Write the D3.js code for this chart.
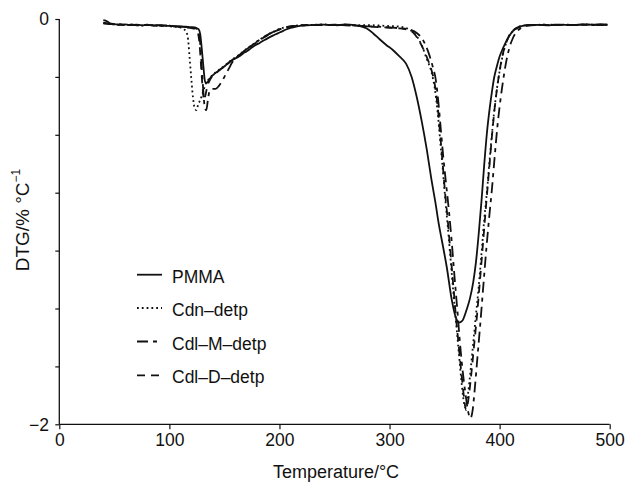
<!DOCTYPE html>
<html><head><meta charset="utf-8">
<script src="https://cdn.jsdelivr.net/npm/d3@7"></script>
<style>html,body{margin:0;padding:0;background:#fff;}svg{display:block;font-family:"Liberation Sans",Arial,sans-serif;}</style>
</head><body>
<svg id="c" width="625" height="483"></svg>
<script>
const xTicks = [0,100,200,300,400,500];
const yTickLabels = [{v:0,t:"0"},{v:-2,t:"\u22122"}];
const seriesNames = ["PMMA","Cdn\u2013detp","Cdl\u2013M\u2013detp","Cdl\u2013D\u2013detp"];

const pmma = [[40,-0.006],[42,-0.008],[44,-0.014],[46,-0.022],[50,-0.025],[55,-0.028],[60,-0.027],[65,-0.03],[70,-0.028],[75,-0.031],[80,-0.029],[85,-0.032],[90,-0.03],[95,-0.033],[100,-0.034],[105,-0.035],[110,-0.036],[115,-0.038],[120,-0.04],[124,-0.043],[126.5,-0.05],[128,-0.075],[129.5,-0.15],[131,-0.24],[132.5,-0.31],[134,-0.315],[136,-0.3],[138,-0.285],[140,-0.275],[143,-0.262],[146,-0.25],[149,-0.238],[152,-0.225],[155,-0.212],[158,-0.2],[161,-0.192],[164,-0.182],[167,-0.17],[170,-0.16],[174,-0.145],[178,-0.13],[182,-0.118],[186,-0.105],[190,-0.093],[194,-0.082],[198,-0.072],[202,-0.062],[206,-0.052],[210,-0.044],[215,-0.037],[220,-0.033],[225,-0.031],[230,-0.03],[240,-0.028],[250,-0.03],[260,-0.027],[268,-0.03],[274,-0.036],[279,-0.046],[285,-0.07],[291,-0.1],[297,-0.128],[303,-0.153],[309,-0.185],[315,-0.22],[320,-0.285],[324.5,-0.38],[329,-0.498],[334,-0.65],[338,-0.79],[341.5,-0.9],[345,-1.02],[348.5,-1.12],[352,-1.225],[356.5,-1.385],[360,-1.47],[363,-1.498],[366,-1.49],[370,-1.435],[373,-1.38],[376,-1.3],[378.5,-1.2],[381,-1.06],[383.5,-0.9],[386,-0.72],[388.5,-0.56],[391,-0.44],[393,-0.36],[395,-0.29],[397.5,-0.233],[400,-0.185],[403,-0.145],[406,-0.11],[409,-0.082],[412,-0.06],[416,-0.045],[420,-0.035],[426,-0.03],[435,-0.029],[445,-0.031],[455,-0.028],[465,-0.03],[475,-0.027],[485,-0.028],[492,-0.026],[498,-0.028]];

const cdn = [[40,-0.02],[45,-0.024],[50,-0.026],[55,-0.03],[60,-0.027],[65,-0.03],[70,-0.029],[75,-0.032],[80,-0.028],[85,-0.031],[90,-0.033],[95,-0.032],[100,-0.036],[105,-0.038],[110,-0.042],[113,-0.05],[115.5,-0.065],[117,-0.1],[118.5,-0.2],[120,-0.3],[121.5,-0.39],[123,-0.44],[124.5,-0.45],[126,-0.425],[128,-0.4],[130,-0.37],[132,-0.335],[134,-0.31],[136,-0.295],[138,-0.283],[140,-0.272],[143,-0.26],[146,-0.247],[149,-0.235],[152,-0.222],[155,-0.208],[158,-0.196],[161,-0.186],[164,-0.174],[167,-0.16],[170,-0.148],[174,-0.132],[178,-0.117],[182,-0.102],[186,-0.088],[190,-0.075],[194,-0.064],[198,-0.054],[202,-0.046],[206,-0.04],[210,-0.036],[215,-0.033],[220,-0.03],[230,-0.029],[240,-0.027],[250,-0.03],[260,-0.028],[270,-0.031],[280,-0.03],[290,-0.032],[300,-0.035],[308,-0.037],[314,-0.043],[318,-0.052],[322,-0.068],[326,-0.095],[330,-0.14],[334,-0.2],[338,-0.26],[341,-0.34],[343.5,-0.45],[346,-0.6],[348.5,-0.75],[350.5,-0.88],[353,-1.03],[355.5,-1.19],[358,-1.35],[360.5,-1.5],[363,-1.65],[365,-1.77],[367,-1.87],[368.5,-1.915],[370,-1.9],[371.5,-1.84],[373.5,-1.74],[376,-1.6],[378.5,-1.46],[381,-1.32],[383.5,-1.16],[386,-0.99],[388.5,-0.85],[391,-0.69],[393.5,-0.54],[396,-0.41],[399,-0.29],[402,-0.2],[405,-0.135],[408,-0.09],[412,-0.06],[416,-0.043],[421,-0.033],[430,-0.03],[440,-0.028],[450,-0.03],[460,-0.028],[470,-0.03],[480,-0.027],[490,-0.029],[498,-0.028]];

const cdlM = [[40,-0.018],[45,-0.022],[50,-0.027],[55,-0.026],[60,-0.03],[65,-0.028],[70,-0.031],[75,-0.029],[80,-0.03],[85,-0.033],[90,-0.031],[95,-0.034],[100,-0.033],[105,-0.036],[110,-0.038],[115,-0.04],[120,-0.042],[124,-0.046],[126,-0.055],[127.5,-0.09],[129,-0.2],[130.5,-0.33],[132,-0.43],[133.5,-0.45],[135,-0.4],[136.5,-0.355],[139,-0.345],[142,-0.345],[145,-0.33],[148,-0.305],[151,-0.275],[154,-0.245],[157,-0.215],[160,-0.195],[163,-0.18],[166,-0.167],[170,-0.15],[174,-0.134],[178,-0.118],[182,-0.103],[186,-0.089],[190,-0.076],[194,-0.065],[198,-0.055],[202,-0.047],[206,-0.041],[210,-0.037],[215,-0.034],[220,-0.031],[230,-0.03],[240,-0.028],[250,-0.031],[260,-0.03],[270,-0.033],[280,-0.036],[290,-0.038],[300,-0.042],[308,-0.045],[314,-0.048],[320,-0.055],[325,-0.07],[330,-0.1],[335,-0.16],[339,-0.23],[342,-0.3],[344,-0.39],[346.5,-0.54],[349,-0.69],[351.5,-0.82],[354,-0.95],[356.5,-1.1],[359,-1.27],[361.5,-1.43],[364,-1.6],[366.5,-1.74],[369,-1.85],[371.5,-1.94],[373.5,-1.97],[375.5,-1.93],[377.5,-1.82],[380,-1.66],[382.5,-1.5],[385,-1.33],[388,-1.13],[390.5,-0.98],[393,-0.84],[395.5,-0.68],[398,-0.53],[400.5,-0.41],[403,-0.31],[406,-0.21],[409,-0.14],[412,-0.095],[416,-0.06],[420,-0.042],[426,-0.032],[435,-0.03],[445,-0.028],[455,-0.03],[465,-0.029],[475,-0.028],[485,-0.03],[498,-0.029]];

const cdlD = [[40,-0.022],[45,-0.025],[50,-0.024],[55,-0.028],[60,-0.029],[65,-0.027],[70,-0.03],[75,-0.031],[80,-0.03],[85,-0.03],[90,-0.033],[95,-0.031],[100,-0.035],[105,-0.037],[110,-0.039],[115,-0.042],[120,-0.045],[124,-0.05],[126,-0.07],[127.5,-0.13],[129,-0.25],[130.5,-0.36],[131.5,-0.4],[133,-0.37],[134.5,-0.33],[136,-0.31],[138,-0.29],[140,-0.278],[143,-0.264],[146,-0.25],[149,-0.237],[152,-0.224],[155,-0.21],[158,-0.198],[161,-0.188],[164,-0.176],[167,-0.162],[170,-0.15],[174,-0.134],[178,-0.12],[182,-0.105],[186,-0.09],[190,-0.078],[194,-0.066],[198,-0.056],[202,-0.048],[206,-0.042],[210,-0.037],[215,-0.033],[220,-0.031],[230,-0.029],[240,-0.03],[250,-0.028],[260,-0.031],[270,-0.034],[280,-0.037],[290,-0.04],[300,-0.043],[308,-0.046],[314,-0.05],[318,-0.055],[322,-0.07],[326,-0.1],[330,-0.14],[334,-0.19],[338,-0.25],[341,-0.32],[343.5,-0.42],[346,-0.57],[348.5,-0.73],[350.5,-0.86],[353,-1.0],[355.5,-1.16],[358,-1.32],[360.5,-1.48],[363,-1.62],[365.5,-1.76],[367.5,-1.86],[369.5,-1.93],[371,-1.9],[372.5,-1.84],[374.5,-1.74],[377,-1.6],[379.5,-1.46],[382,-1.3],[385,-1.1],[388,-0.9],[390.5,-0.74],[393,-0.58],[395.5,-0.44],[398.5,-0.31],[401.5,-0.21],[404.5,-0.14],[408,-0.09],[412,-0.058],[417,-0.04],[423,-0.031],[430,-0.03],[440,-0.029],[450,-0.028],[460,-0.03],[470,-0.029],[480,-0.028],[490,-0.03],[498,-0.028]];

const dashes = [null, "1.8,3", "11,5,4,5", "8,6"];
const seriesData = [pmma, cdn, cdlM, cdlD];

const svg = d3.select("#c");
const x = d3.scaleLinear().domain([0,500]).range([59.3,609.7]);
const y = d3.scaleLinear().domain([-2,0]).range([424.3,19]);

const line = d3.line().x(d=>x(d[0])).y(d=>y(d[1])).curve(d3.curveMonotoneX);
seriesData.forEach((s,i)=>{
  svg.append("path").attr("d", line(s)).attr("fill","none").attr("stroke","#111")
    .attr("stroke-width",1.8).attr("stroke-dasharray", dashes[i]).attr("stroke-linejoin","round");
});

const xAxis = d3.axisBottom(x).tickValues(xTicks).tickSize(5).tickPadding(4).tickFormat(d3.format("d"));
const gx = svg.append("g").attr("transform","translate(0,424.3)").call(xAxis);
gx.select(".domain").attr("d", `M${x(0)},0H${x(500)}`).attr("stroke","#111").attr("stroke-width",1.3);
gx.selectAll(".tick line").attr("stroke","#111").attr("stroke-width",1.2);
gx.selectAll(".tick text").attr("font-size","17.5px").attr("font-family","Liberation Sans, Arial, sans-serif").attr("fill","#111").attr("dy","0.72em");

const yTickVals = d3.range(8).map(i=>-2*i/7);
const yAxis = d3.axisLeft(y).tickValues(yTickVals).tickSize(4).tickFormat("");
const gy = svg.append("g").attr("transform","translate(59.3,0)").call(yAxis);
gy.select(".domain").attr("d", `M0,${y(-2)}V${y(0)}`).attr("stroke","#111").attr("stroke-width",1.3);
gy.selectAll(".tick line").attr("stroke","#111").attr("stroke-width",1.2);
yTickLabels.forEach(t=>{
  svg.append("text").attr("x",49).attr("y",y(t.v)).attr("dy","0.36em").attr("text-anchor","end")
    .attr("font-size","17.5px").attr("fill","#111").text(t.t);
});

svg.append("text").attr("x",336).attr("y",478).attr("text-anchor","middle").attr("font-size","18px").attr("fill","#111").text("Temperature/\u00B0C");
const yt = svg.append("text").attr("transform","translate(29,220) rotate(-90)").attr("text-anchor","middle").attr("font-size","19px").attr("fill","#111");
yt.append("tspan").text("DTG/% \u00B0C");
yt.append("tspan").attr("font-size","12px").attr("dy","-0.75em").text("\u22121");

const legBase = [282.7, 316, 349.5, 383.3];
seriesNames.forEach((n,i)=>{
  svg.append("line").attr("x1",137).attr("x2",162).attr("y1",legBase[i]-8).attr("y2",legBase[i]-8)
    .attr("stroke","#111").attr("stroke-width",1.8).attr("stroke-dasharray", dashes[i]);
  svg.append("text").attr("x",172).attr("y",legBase[i]).attr("font-size","17.5px").attr("fill","#111").text(n);
});
</script>
</body></html>
